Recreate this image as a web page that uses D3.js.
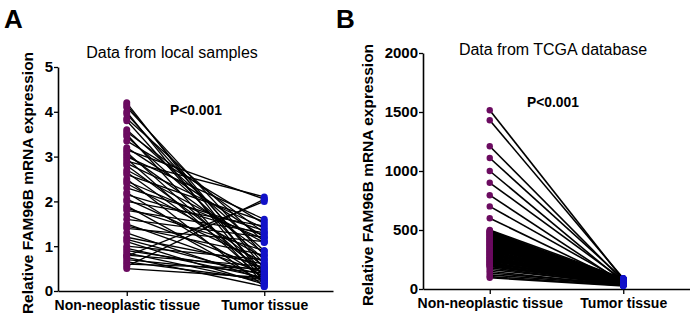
<!DOCTYPE html>
<html>
<head>
<meta charset="utf-8">
<script src="https://cdn.jsdelivr.net/npm/d3@7"></script>
<style>
	body { margin: 0; background: #fff; }
	text { font-family: "Liberation Sans", Arial, sans-serif; }
</style>
</head>
<body>
<div id="chart"></div>
<script>
///////////////////////////////////////////////////////////////////////////
//////////////////////////////// Data /////////////////////////////////////
///////////////////////////////////////////////////////////////////////////

var groups = ["Non-neoplastic tissue", "Tumor tissue"];

//Panel A - local samples, paired values
var localNormal = [4.2, 4.15, 4.1, 4.0, 3.95, 3.85, 3.8, 3.6, 3.55, 3.5, 3.45, 3.35,
	3.2, 3.15, 3.1, 3.05, 3.0, 2.95, 2.9, 2.85, 2.8, 2.7, 2.65, 2.6, 2.5, 2.45, 2.4,
	2.3, 2.2, 2.15, 2.05, 2.0, 1.9, 1.85, 1.8, 1.7, 1.6, 1.5, 1.45, 1.4, 1.3, 1.2,
	1.15, 1.1, 1.0, 0.95, 0.9, 0.85, 0.8, 0.78, 0.75, 0.7, 0.65, 0.6, 0.55, 0.5];
var localTumor = [0.3, 0.5, 0.8, 0.2, 0.6, 1.1, 0.4, 0.9, 1.3, 0.15, 0.7, 1.5,
	1.2, 2.05, 0.35, 0.85, 1.6, 0.25, 2.1, 1.4, 0.55, 1.08, 0.45, 1.55, 0.1, 1.15, 0.75,
	1.35, 0.3, 1.25, 0.65, 1.45, 0.2, 0.9, 1.3, 0.5, 1.2, 0.4, 0.8, 1.1, 0.25, 0.6,
	0.35, 0.15, 0.7, 0.3, 0.45, 0.2, 0.55, 2.0, 0.1, 0.4, 0.25, 0.5, 2.05, 0.3];

//Panel B - TCGA, paired values
var tcgaNormal = [1515, 1430, 1210, 1110, 1000, 900, 795, 700, 600,
	500, 495, 490, 485, 480, 475, 470, 465, 460, 455, 450, 445, 440, 435, 430, 425,
	420, 415, 410, 405, 400, 395, 390, 385, 380, 375, 370, 365, 360, 355, 350, 345,
	340, 335, 330, 325, 320, 315, 310, 305, 300, 295, 290, 285, 280, 275, 270, 265,
	260, 255, 250, 245, 240, 235, 230, 225, 220, 215, 210, 205, 200, 195, 190,
	180, 165, 150, 135, 120, 105, 95];
var tcgaTumor = [80, 90, 70, 85, 60, 75, 50, 65, 55,
	90, 60, 40, 85, 70, 45, 30, 75, 85, 55, 50, 90, 60, 35, 80, 65,
	45, 70, 65, 40, 80, 55, 45, 30, 75, 90, 55, 35, 60, 85, 40, 50,
	90, 70, 35, 60, 45, 80, 30, 55, 70, 40, 85, 65, 30, 50, 75, 45,
	60, 40, 35, 85, 55, 70, 30, 50, 45, 80, 65, 35, 60, 40, 50,
	35, 45, 30, 40, 35, 30, 25];

var yTicksA = [0, 1, 2, 3, 4, 5];
var yTicksB = [0, 500, 1000, 1500, 2000];

var purple = "#6b0b60",
	blue = "#1212c8";

///////////////////////////////////////////////////////////////////////////
//////////////////////////////// SVG //////////////////////////////////////
///////////////////////////////////////////////////////////////////////////

var svg = d3.select("#chart").append("svg")
	.attr("width", 690)
	.attr("height", 319);

function drawPanel(opt) {
	var g = svg.append("g");

	var x = d3.scalePoint().domain(groups).range([opt.left, opt.right]).padding(0.5);
	var y = d3.scaleLinear().domain(opt.domain).range([opt.bottom, opt.top]);

	//Panel letter
	g.append("text")
		.attr("x", opt.letterX)
		.attr("y", 28)
		.style("font-size", "26px")
		.style("font-weight", "bold")
		.text(opt.letter);

	//Title
	g.append("text")
		.attr("x", opt.titleX)
		.attr("y", opt.titleY)
		.style("text-anchor", "middle")
		.style("font-size", "16px")
		.text(opt.title);

	//P value
	g.append("text")
		.attr("x", opt.pX)
		.attr("y", opt.pY)
		.style("text-anchor", "middle")
		.style("font-size", "13.8px")
		.style("font-weight", "bold")
		.text("P<0.001");

	//Y axis
	var yAxis = g.append("g")
		.attr("transform", "translate(" + opt.left + ",0)")
		.call(d3.axisLeft(y).tickValues(opt.ticks).tickFormat(d3.format("d"))
			.tickSize(4).tickSizeOuter(0).tickPadding(1));
	yAxis.select(".domain").attr("stroke-width", 1.6);
	yAxis.selectAll(".tick line").attr("stroke-width", 1.3);
	yAxis.selectAll("text")
		.style("font-size", "15px")
		.style("font-weight", "bold")
		.attr("fill", "#000");

	//X axis
	var xAxis = g.append("g")
		.attr("transform", "translate(0," + opt.bottom + ")")
		.call(d3.axisBottom(x).tickSize(5).tickSizeOuter(0).tickPadding(4));
	xAxis.select(".domain").attr("stroke-width", 1.6);
	xAxis.selectAll(".tick line").attr("stroke-width", 1.3);
	xAxis.selectAll("text")
		.style("font-size", "14px")
		.style("font-weight", "bold")
		.attr("fill", "#000");

	//Y axis title
	g.append("text")
		.attr("transform", "translate(" + opt.yTitleX + "," + ((opt.top + opt.bottom) / 2 + 4) + ") rotate(-90)")
		.style("text-anchor", "middle")
		.style("font-size", "15.5px")
		.style("font-weight", "bold")
		.text("Relative FAM96B mRNA expression");

	//Paired lines
	var pairs = opt.normal.map(function(d, i) { return { n: d, t: opt.tumor[i] }; });
	g.append("g").selectAll("line")
		.data(pairs)
		.enter().append("line")
		.attr("x1", x(groups[0]))
		.attr("x2", x(groups[1]))
		.attr("y1", function(d) { return y(d.n); })
		.attr("y2", function(d) { return y(d.t); })
		.attr("stroke", "#000")
		.attr("stroke-width", opt.lineWidth);

	//Points
	g.append("g").selectAll("circle")
		.data(opt.normal)
		.enter().append("circle")
		.attr("cx", x(groups[0]))
		.attr("cy", function(d) { return y(d); })
		.attr("r", opt.r)
		.attr("fill", purple);

	g.append("g").selectAll("circle")
		.data(opt.tumor)
		.enter().append("circle")
		.attr("cx", x(groups[1]))
		.attr("cy", function(d) { return y(d); })
		.attr("r", opt.r)
		.attr("fill", blue);
}//drawPanel

drawPanel({
	letter: "A", letterX: 4,
	title: "Data from local samples", titleX: 172, titleY: 58,
	pX: 196, pY: 115,
	left: 58, right: 333, top: 67, bottom: 291,
	domain: [0, 5], ticks: yTicksA,
	yTitleX: 33,
	normal: localNormal, tumor: localTumor,
	r: 3.5, lineWidth: 1.3
});

drawPanel({
	letter: "B", letterX: 336,
	title: "Data from TCGA database", titleX: 553, titleY: 55,
	pX: 553, pY: 107,
	left: 423, right: 690, top: 53, bottom: 289,
	domain: [0, 2000], ticks: yTicksB,
	yTitleX: 373,
	normal: tcgaNormal, tumor: tcgaTumor,
	r: 3.2, lineWidth: 1.6
});
</script>
</body>
</html>
